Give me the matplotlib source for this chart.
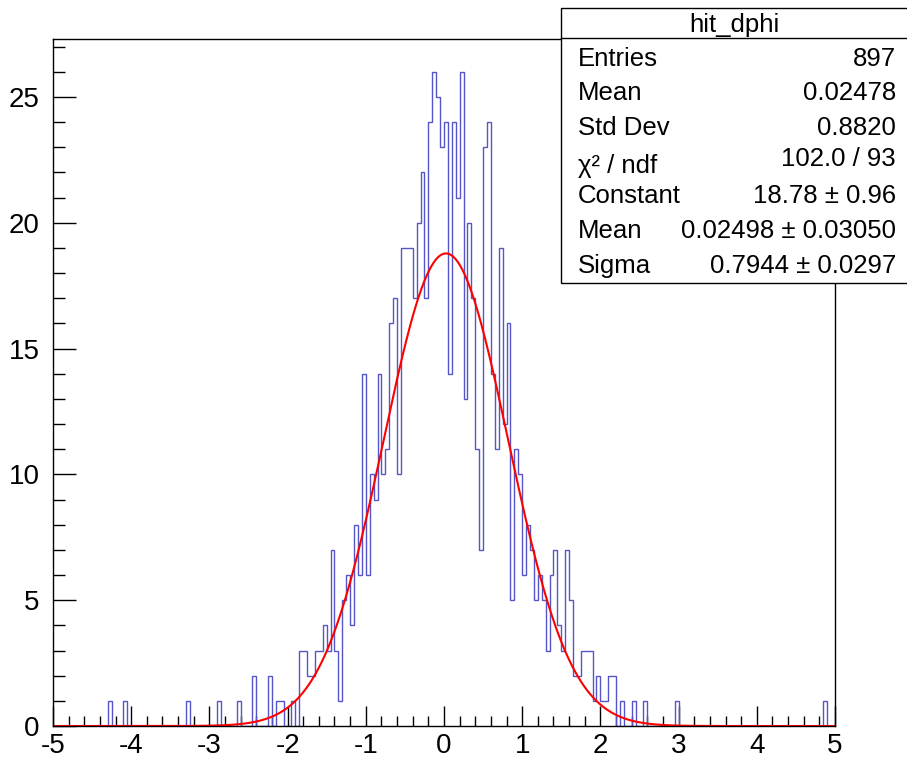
import numpy as np
import matplotlib.pyplot as plt
from matplotlib.patches import Rectangle

plt.rcParams['font.family'] = ['Liberation Sans', 'DejaVu Sans']
plt.rcParams['axes.unicode_minus'] = False

# lower edge of every non-empty bin (bin width 0.05) and its content
bin_low = [-4.30, -4.10, -3.30, -2.90, -2.65, -2.45, -2.25, -2.15, -2.10, -1.95,
           -1.85, -1.80, -1.75, -1.70, -1.65, -1.60, -1.55, -1.50, -1.45, -1.40,
           -1.35, -1.30, -1.25, -1.20, -1.15, -1.10, -1.05,
           -1.00, -0.95, -0.90, -0.85, -0.80, -0.75, -0.70, -0.65, -0.60, -0.55,
           -0.50, -0.45, -0.40, -0.35, -0.30, -0.25, -0.20, -0.15, -0.10, -0.05,
           0.00, 0.05, 0.10, 0.15, 0.20, 0.25, 0.30, 0.35, 0.40, 0.45,
           0.50, 0.55, 0.60, 0.65, 0.70, 0.75, 0.80, 0.85, 0.90, 0.95,
           1.00, 1.05, 1.10, 1.15, 1.20, 1.25, 1.30, 1.35, 1.40, 1.45,
           1.50, 1.55, 1.60, 1.65, 1.70, 1.75, 1.80, 1.85, 1.90, 1.95,
           2.00, 2.05, 2.10, 2.15, 2.25, 2.40, 2.55, 2.95, 4.85]
bin_count = [1, 1, 1, 1, 1, 2, 2, 1, 1, 1,
             3, 3, 2, 2, 3, 3, 4, 3, 7, 3,
             1, 5, 6, 4, 8, 6, 14,
             6, 10, 9, 14, 10, 11, 16, 17, 10, 19,
             19, 19, 17, 20, 22, 17, 24, 26, 25, 23,
             24, 14, 24, 21, 26, 13, 20, 17, 11, 7,
             23, 24, 14, 11, 19, 12, 16, 5, 11, 10,
             6, 8, 7, 5, 6, 5, 3, 6, 7, 4,
             3, 7, 5, 2, 2, 3, 3, 3, 1, 2,
             1, 1, 2, 2, 1, 1, 1, 1, 1]

# gaussian fit parameters
fit_const = 18.78
fit_mean = 0.02498
fit_sigma = 0.7944

stats_rows = [("Entries", "897"),
              ("Mean", "0.02478"),
              ("Std Dev", "0.8820"),
              ("χ² / ndf", "102.0 / 93"),
              ("Constant", "18.78 ± 0.96"),
              ("Mean", "0.02498 ± 0.03050"),
              ("Sigma", "0.7944 ± 0.0297")]

edges = np.linspace(-5, 5, 201)
centers = np.array(bin_low) + 0.025

fig = plt.figure(figsize=(9.07, 7.58), dpi=100)
ax = fig.add_axes([0.0584, 0.0422, 0.8622, 0.9063])

ax.hist(centers, bins=edges, weights=bin_count, histtype='step',
        color='#5555c8', lw=1.0)

xf = np.linspace(-5, 5, 1000)
ax.plot(xf, fit_const * np.exp(-0.5 * ((xf - fit_mean) / fit_sigma) ** 2),
        color='#ff0000', lw=1.5)

ax.set_xlim(-5, 5)
ax.set_ylim(0, 27.3)
ax.set_xticks(range(-5, 6))
ax.set_xticks(np.arange(-5, 5.01, 0.2), minor=True)
ax.set_yticks([0, 5, 10, 15, 20, 25])
ax.set_yticks(range(0, 28), minor=True)
ax.tick_params(axis='both', which='both', direction='in', labelsize=20,
               top=False, right=False, width=1.0, color='black')
ax.tick_params(axis='x', which='major', length=14.5, pad=5)
ax.tick_params(axis='x', which='minor', length=7.2)
ax.tick_params(axis='y', which='major', length=16.5, pad=9.5)
ax.tick_params(axis='y', which='minor', length=8.3)
for s in ax.spines.values():
    s.set_linewidth(1.0)
    s.set_color('black')

# stats box
bx0, by0, by1 = 561 / 907, 1 - 283 / 758, 1 - 8 / 758
fig.add_artist(Rectangle((bx0, by0), 1.2 - bx0, by1 - by0, transform=fig.transFigure,
                         facecolor='white', edgecolor='black', lw=1.0, zorder=5))
fig.add_artist(plt.Line2D([bx0, 1], [1 - 38 / 758] * 2, transform=fig.transFigure,
                          color='black', lw=1.0, zorder=6))
fig.text(734 / 907, 1 - 25 / 758, "hit_dphi", ha='center', va='center',
         fontsize=18.5, zorder=7)
row_y = [59, 93, 128, 162, 196, 231, 266]
for (lab, val), yy in zip(stats_rows, row_y):
    dl, dv = 0, 0
    if lab.startswith("χ"):
        dl, dv = 4, -3
    fig.text(578 / 907, 1 - (yy + dl) / 758, lab, ha='left', va='center',
             fontsize=18.5, zorder=7)
    fig.text(896 / 907, 1 - (yy + dv) / 758, val, ha='right', va='center',
             fontsize=18.5, zorder=7)

fig.savefig('out.png', dpi=100)
